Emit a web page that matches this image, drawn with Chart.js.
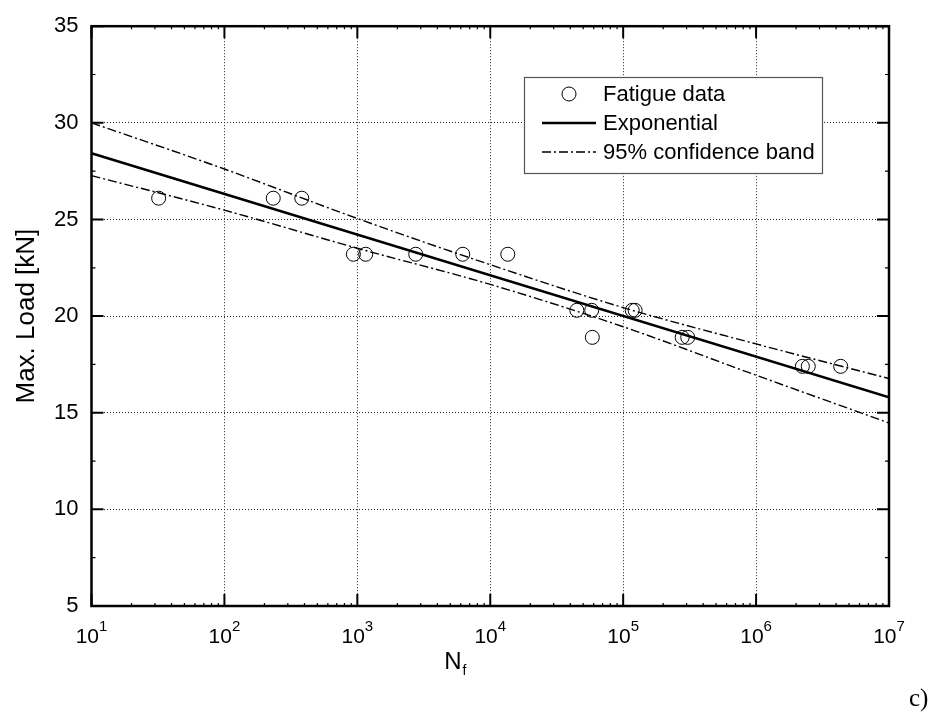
<!DOCTYPE html>
<html lang="en">
<head>
  <meta charset="UTF-8">
  <title>Fatigue S-N Curve</title>
  <script src="https://cdn.jsdelivr.net/npm/chart.js"></script>
  <style>
    body {
      margin: 0;
      background: #fff;
    }
    canvas {
      display: block;
    }
  </style>
</head>
<body>

<canvas id="snChart" width="940" height="715" aria-label="Max. load versus cycles to failure" role="img"></canvas>

<script>
  // measured fatigue tests: cycles to failure and max. load (kN)
  const cycles = [32, 233, 382, 934, 1156, 2750, 6210, 13550, 44800, 58000, 58600,
                  117000, 123000, 278000, 306000, 2230000, 2470000, 4330000];
  const loads = [26.1, 26.1, 26.1, 23.2, 23.2, 23.2, 23.2, 23.2, 20.3, 20.3, 18.9,
                 20.3, 20.3, 18.9, 18.9, 17.4, 17.4, 17.4];

  // fitted curve (straight on the semi-log axes)
  const fitCycles = [10, 1e7];
  const fitLoads = [28.43, 15.8];

  // 95% confidence band read at each decade
  const bandCycles = [10, 1e2, 1e3, 1e4, 1e5, 1e6, 1e7];
  const bandUpper = [30.0, 27.61, 25.05, 22.66, 20.44, 18.56, 16.77];
  const bandLower = [27.27, 25.48, 23.51, 21.64, 19.45, 16.94, 14.47];

  const xDecades = [10, 1e2, 1e3, 1e4, 1e5, 1e6, 1e7];
  const xTickExps = ['1', '2', '3', '4', '5', '6', '7'];
  const yTicks = [5, 10, 15, 20, 25, 30, 35];

  const labels = ['Fatigue data', 'Exponential', '95% confidence band'];

  const FONT = '"Liberation Sans", Arial, sans-serif';
  const bandDash = [9, 3, 2, 3];

  const toXY = (xs, ys) => xs.map((x, i) => ({ x: x, y: ys[i] }));

  // frame, inward ticks, superscript tick labels, titles and the boxed legend
  const decorations = {
    id: 'decorations',
    afterDraw(chart) {
      const ctx = chart.ctx;
      const area = chart.chartArea;
      const xs = chart.scales.x;
      const ys = chart.scales.y;
      ctx.save();

      ctx.strokeStyle = '#000';
      ctx.lineWidth = 2.5;
      ctx.strokeRect(area.left, area.top, area.right - area.left, area.bottom - area.top);

      // major and minor ticks, pointing inward on all four sides
      ctx.lineWidth = 2;
      xDecades.forEach(v => {
        const px = xs.getPixelForValue(v);
        ctx.beginPath();
        ctx.moveTo(px, area.bottom); ctx.lineTo(px, area.bottom - 12);
        ctx.moveTo(px, area.top); ctx.lineTo(px, area.top + 12);
        ctx.stroke();
      });
      yTicks.forEach(v => {
        const py = ys.getPixelForValue(v);
        ctx.beginPath();
        ctx.moveTo(area.left, py); ctx.lineTo(area.left + 12, py);
        ctx.moveTo(area.right, py); ctx.lineTo(area.right - 12, py);
        ctx.stroke();
      });
      ctx.lineWidth = 1.2;
      for (let v = 7.5; v < 35; v += 5) {
        const py = ys.getPixelForValue(v);
        ctx.beginPath();
        ctx.moveTo(area.left, py); ctx.lineTo(area.left + 4, py);
        ctx.moveTo(area.right, py); ctx.lineTo(area.right - 4, py);
        ctx.stroke();
      }
      xDecades.slice(0, -1).forEach(d => {
        for (let k = 2; k <= 9; k++) {
          const px = xs.getPixelForValue(d * k);
          ctx.beginPath();
          ctx.moveTo(px, area.bottom); ctx.lineTo(px, area.bottom - 3);
          ctx.moveTo(px, area.top); ctx.lineTo(px, area.top + 3);
          ctx.stroke();
        }
      });

      // x tick labels: 10 with a raised exponent
      ctx.fillStyle = '#000';
      ctx.textBaseline = 'alphabetic';
      xDecades.forEach((v, i) => {
        const px = xs.getPixelForValue(v);
        ctx.font = '21px ' + FONT;
        const wBase = ctx.measureText('10').width;
        ctx.font = '15px ' + FONT;
        const wExp = ctx.measureText(xTickExps[i]).width;
        const x0 = px - (wBase + wExp) / 2;
        ctx.textAlign = 'left';
        ctx.font = '21px ' + FONT;
        ctx.fillText('10', x0, area.bottom + 37);
        ctx.font = '15px ' + FONT;
        ctx.fillText(xTickExps[i], x0 + wBase, area.bottom + 25);
      });

      // x title N with subscript f
      const cx = (area.left + area.right) / 2;
      ctx.font = '24px ' + FONT;
      ctx.textAlign = 'left';
      const wN = ctx.measureText('N').width;
      ctx.fillText('N', cx - 46, area.bottom + 63);
      ctx.font = '14px ' + FONT;
      ctx.fillText('f', cx - 46 + wN + 1, area.bottom + 69);

      // y title
      ctx.save();
      ctx.translate(27, (area.top + area.bottom) / 2);
      ctx.rotate(-Math.PI / 2);
      ctx.font = '26px ' + FONT;
      ctx.textAlign = 'center';
      ctx.textBaseline = 'middle';
      ctx.fillText('Max. Load [kN]', 0, 0);
      ctx.restore();

      // panel tag
      ctx.font = '25px "Liberation Serif", "Times New Roman", serif';
      ctx.textAlign = 'left';
      ctx.fillText('c)', 909, 706);

      // legend box
      ctx.fillStyle = '#fff';
      ctx.fillRect(524.5, 77.5, 298, 96);
      ctx.strokeStyle = '#555';
      ctx.lineWidth = 1.2;
      ctx.strokeRect(524.5, 77.5, 298, 96);

      const ds = chart.data.datasets;
      const rows = [94, 123, 152];
      ctx.strokeStyle = '#000';
      // circle marker
      ctx.lineWidth = ds[0].pointBorderWidth;
      ctx.beginPath();
      ctx.arc(569, rows[0], ds[0].pointRadius, 0, Math.PI * 2);
      ctx.stroke();
      // solid fit sample
      ctx.lineWidth = ds[1].borderWidth;
      ctx.beginPath();
      ctx.moveTo(542, rows[1]); ctx.lineTo(596, rows[1]);
      ctx.stroke();
      // dash-dot band sample
      ctx.lineWidth = ds[2].borderWidth;
      ctx.setLineDash(ds[2].borderDash);
      ctx.beginPath();
      ctx.moveTo(542, rows[2]); ctx.lineTo(596, rows[2]);
      ctx.stroke();
      ctx.setLineDash([]);

      ctx.fillStyle = '#000';
      ctx.font = '22px ' + FONT;
      ctx.textBaseline = 'middle';
      labels.forEach((t, i) => ctx.fillText(t, 603, rows[i] + 1));

      ctx.restore();
    }
  };

  const ctx = document.getElementById('snChart').getContext('2d');

  new Chart(ctx, {
    type: 'scatter',
    data: {
      datasets: [
        {
          label: labels[0],
          data: toXY(cycles, loads),
          pointRadius: 7,
          pointHoverRadius: 7,
          pointBorderWidth: 1,
          pointBorderColor: '#000',
          pointBackgroundColor: 'rgba(0,0,0,0)',
          showLine: false,
          order: 1
        },
        {
          label: labels[1],
          data: toXY(fitCycles, fitLoads),
          showLine: true,
          borderColor: '#000',
          borderWidth: 2.6,
          pointRadius: 0,
          order: 2
        },
        {
          label: labels[2],
          data: toXY(bandCycles, bandUpper),
          showLine: true,
          borderColor: '#000',
          borderWidth: 1.4,
          borderDash: bandDash,
          cubicInterpolationMode: 'monotone',
          pointRadius: 0,
          order: 3
        },
        {
          label: labels[2],
          data: toXY(bandCycles, bandLower),
          showLine: true,
          borderColor: '#000',
          borderWidth: 1.4,
          borderDash: bandDash,
          cubicInterpolationMode: 'monotone',
          pointRadius: 0,
          order: 3
        }
      ]
    },
    options: {
      responsive: false,
      animation: false,
      layout: { padding: { top: 19, right: 51, left: 0, bottom: 0 } },
      scales: {
        x: {
          type: 'logarithmic',
          min: 10,
          max: 1e7,
          afterBuildTicks: s => { s.ticks = xDecades.map(v => ({ value: v })); },
          afterFit: s => { s.height = 109; },
          ticks: { display: false },
          border: { display: false, dash: [1, 2] },
          grid: {
            drawTicks: false,
            color: '#222',
            lineWidth: 1
          }
        },
        y: {
          min: 5,
          max: 35,
          afterBuildTicks: s => { s.ticks = yTicks.map(v => ({ value: v })); },
          afterFit: s => { s.width = 91.5; },
          ticks: {
            padding: 13,
            color: '#000',
            font: { family: FONT, size: 22 }
          },
          border: { display: false, dash: [1, 2] },
          grid: {
            drawTicks: false,
            color: '#222',
            lineWidth: 1
          }
        }
      },
      plugins: {
        legend: { display: false },
        tooltip: { enabled: false }
      }
    },
    plugins: [decorations]
  });
</script>

</body>
</html>
